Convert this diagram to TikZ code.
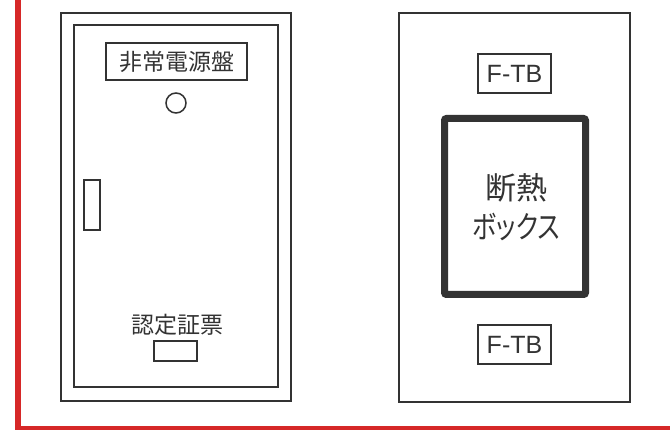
\documentclass[tikz,border=0pt]{standalone}
\usepackage{graphicx}
\usepackage{fontspec}
\newfontfamily\jp{Noto Sans CJK JP}
\newfontfamily\jpp[RawFeature=+palt]{Noto Sans CJK JP}
\newfontfamily\lat{Liberation Sans}
\definecolor{ink}{HTML}{333333}
\definecolor{redline}{HTML}{D62828}
\begin{document}
\begin{tikzpicture}[x=1pt,y=-1pt,
  frame/.style={draw=ink,line width=1.8pt},
  thin/.style={draw=ink,line width=1.5pt},
  jplabel/.style={font=\jp\fontsize{23}{23}\selectfont,text=ink,inner sep=0pt},
  ftb/.style={draw=ink,line width=1.5pt,minimum width=73pt,minimum height=39pt,inner sep=0pt,font=\lat\fontsize{25}{25}\selectfont,text=ink}]
\useasboundingbox (0,0) rectangle (670,430);
\fill[white] (0,0) rectangle (670,430);
% red border
\draw[redline,line width=6pt] (18,0) -- (18,428);
\draw[redline,line width=4pt] (15,428) -- (670,428);
% left cabinet
\draw[frame] (61,13) rectangle (291,401);
\draw[frame] (74,25) rectangle (278,387);
\node[thin,minimum width=141pt,minimum height=37pt,inner sep=0pt,jplabel] (title) at (176.5,61.5) {非常電源盤};
\node[thin,circle,minimum size=20pt,inner sep=0pt] (lamp) at (176,103) {};
\node[thin,minimum width=16pt,minimum height=50pt,inner sep=0pt] (handle) at (92,205) {};
\node[jplabel] (cert) at (177,325) {認定証票};
\node[thin,minimum width=43pt,minimum height=20pt,inner sep=0pt] (certbox) at (175.5,351) {};
% right panel
\draw[frame] (399,13) rectangle (630,402);
\node[ftb] (ftbtop) at (514.5,73.5) {F-TB};
\draw[draw=ink,line width=7pt,rounded corners=2pt] (444.5,118.5) rectangle (585.5,294.5);
\node[font=\jpp\fontsize{31}{39}\selectfont,text=ink,align=center,inner sep=0pt] (box) at (516,207) {断熱\\\scalebox{0.8}[1]{ボックス}};
\node[ftb] (ftbbot) at (514.5,344.5) {F-TB};
\end{tikzpicture}
\end{document}
